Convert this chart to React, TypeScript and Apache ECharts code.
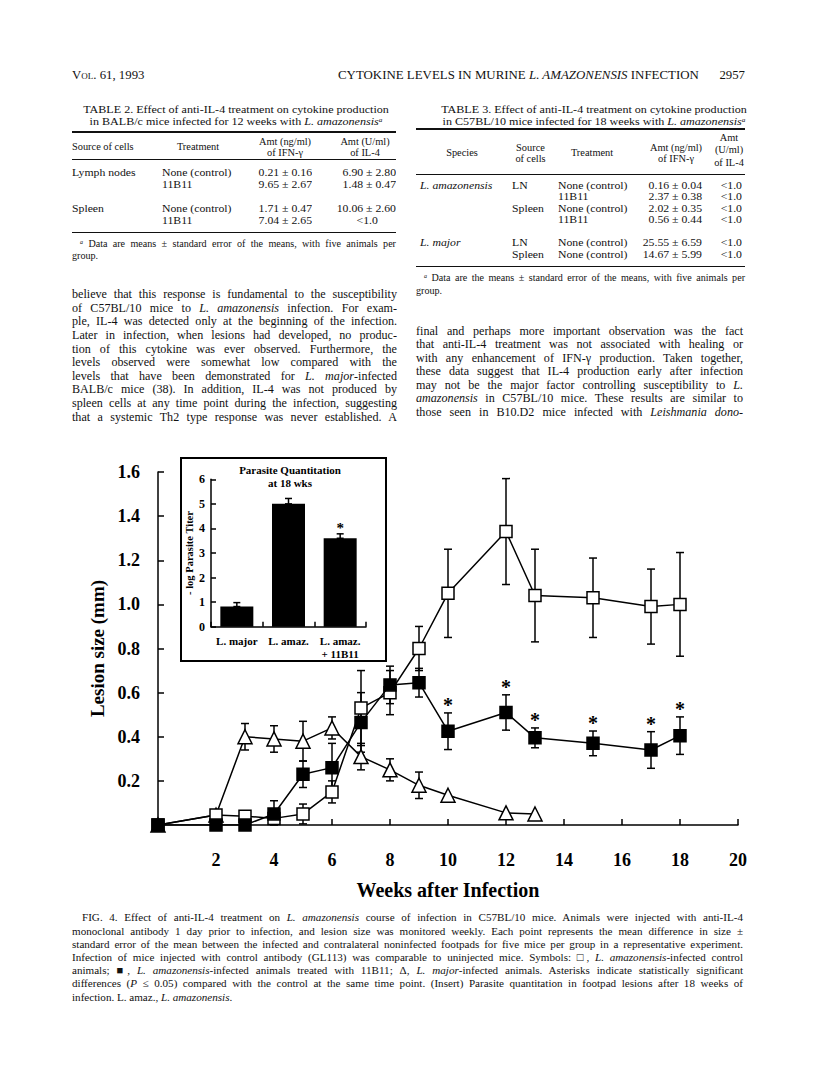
import React, { useEffect, useRef } from "react";
import * as echarts from "echarts";

// ---------- DATA ----------
const controlWeeks = [0, 2, 3, 4, 5, 6, 7, 8, 9, 10, 12, 13, 15, 17, 18];
const controlMean = [0, 0.045, 0.04, 0.03, 0.05, 0.15, 0.53, 0.6, 0.8, 1.05, 1.33, 1.04, 1.03, 0.99, 1.0];
const controlSE = [0, 0, 0, 0, 0.045, 0.05, 0.17, 0.1, 0.1, 0.2, 0.24, 0.21, 0.18, 0.17, 0.235];

const treatedWeeks = [0, 2, 3, 4, 5, 6, 7, 8, 9, 10, 12, 13, 15, 17, 18];
const treatedMean = [0, 0, 0, 0.05, 0.23, 0.26, 0.465, 0.635, 0.645, 0.425, 0.51, 0.395, 0.37, 0.34, 0.405];
const treatedSE = [0, 0, 0, 0.06, 0.06, 0.11, 0.135, 0.085, 0.065, 0.083, 0.08, 0.045, 0.056, 0.083, 0.085];

const majorWeeks = [0, 2, 3, 4, 5, 6, 7, 8, 9, 10, 12, 13];
const majorMean = [0, 0.045, 0.4, 0.39, 0.38, 0.44, 0.31, 0.25, 0.18, 0.135, 0.055, 0.05];
const majorSE = [0, 0, 0.06, 0.06, 0.09, 0.05, 0.06, 0.05, 0.06, 0, 0, 0];

const significantWeeks = [10, 12, 13, 15, 17, 18];

const insetCategories = ["L. major", "L. amaz.", "L. amaz.\n+ 11B11"];
const insetTiter = [0.82, 5.0, 3.6];
const insetSE = [0.16, 0.22, 0.18];
const insetSignificant = [2];

// Table 2 (BALB/c, 12 weeks)
const t2Source = ["Lymph nodes", "", "", "Spleen", ""];
const t2Treatment = ["None (control)", "11B11", "", "None (control)", "11B11"];
const t2IFN = ["0.21 ± 0.16", "9.65 ± 2.67", "", "1.71 ± 0.47", "7.04 ± 2.65"];
const t2IL4 = ["6.90 ± 2.80", "1.48 ± 0.47", "", "10.06 ± 2.60", "<1.0"];

// Table 3 (C57BL/10, 18 weeks)
const t3Source = ["LN", "", "Spleen", "", "", "LN", "Spleen"];
const t3Treatment = ["None (control)", "11B11", "None (control)", "11B11", "", "None (control)", "None (control)"];
const t3IFN = ["0.16 ± 0.04", "2.37 ± 0.38", "2.02 ± 0.35", "0.56 ± 0.44", "", "25.55 ± 6.59", "14.67 ± 5.99"];
const t3IL4 = ["<1.0", "<1.0", "<1.0", "<1.0", "", "<1.0", "<1.0"];

const SERIF = '"Liberation Serif", "Times New Roman", Times, serif';

// ---------- helpers ----------
function pairs(xs: number[], ys: number[]) {
  return xs.map((x, i) => [x, ys[i]]);
}
function errData(xs: number[], ys: number[], se: number[]) {
  const out: number[][] = [];
  xs.forEach((x, i) => {
    if (se[i] > 0) out.push([x, Math.max(0, ys[i] - se[i]), ys[i] + se[i]]);
  });
  return out;
}
function errRender(capW: number, lw: number) {
  return (_p: any, api: any) => {
    const x = api.value(0);
    const lo = api.value(1);
    const hi = api.value(2);
    const t = api.coord([x, hi]);
    const b = api.coord([x, lo]);
    const st = { stroke: "#000", lineWidth: lw };
    return {
      type: "group",
      children: [
        { type: "line", shape: { x1: t[0], y1: t[1], x2: b[0], y2: b[1] }, style: st },
        { type: "line", shape: { x1: t[0] - capW / 2, y1: t[1], x2: t[0] + capW / 2, y2: t[1] }, style: st },
        { type: "line", shape: { x1: b[0] - capW / 2, y1: b[1], x2: b[0] + capW / 2, y2: b[1] }, style: st },
      ],
    };
  };
}
function starRender(offset: number, size: number) {
  return (_p: any, api: any) => {
    const c = api.coord([api.value(0), api.value(1)]);
    return {
      type: "text",
      x: c[0],
      y: c[1] - offset,
      style: {
        text: "*",
        font: `bold ${size}px ${SERIF}`,
        fill: "#000",
        align: "center",
        verticalAlign: "middle",
        textAlign: "center",
        textVerticalAlign: "middle",
      },
    };
  };
}

function Chart() {
  const ref = useRef<HTMLDivElement>(null);
  useEffect(() => {
    if (!ref.current) return;
    const chart = echarts.init(ref.current, undefined, { renderer: "svg" });
    const axisLine = { show: true, lineStyle: { color: "#000", width: 1.5 } };
    const treatedUpper = treatedWeeks
      .map((w, i) => [w, treatedMean[i] + treatedSE[i]])
      .filter((d) => significantWeeks.includes(d[0]));
    const insetUpper = insetSignificant.map((i) => [i, insetTiter[i] + insetSE[i]]);
    const centered = { align: "center", verticalAlign: "middle", textAlign: "center", textVerticalAlign: "middle" };

    chart.setOption({
      animation: false,
      backgroundColor: "#fff",
      textStyle: { fontFamily: SERIF, color: "#000" },
      grid: [
        { left: 158, top: 32, width: 580, height: 353 },
        { left: 211, top: 39.3, width: 155, height: 147.4 },
      ],
      xAxis: [
        {
          gridIndex: 0,
          type: "value",
          min: 0,
          max: 20,
          interval: 2,
          axisLine,
          axisTick: { show: true, inside: true, length: 6, lineStyle: { color: "#000", width: 1.5 } },
          splitLine: { show: false },
          axisLabel: {
            formatter: (v: number) => (v === 0 ? "" : String(v)),
            fontSize: 18,
            fontWeight: "bold",
            color: "#000",
            fontFamily: SERIF,
            margin: 26,
          },
          name: "Weeks after Infection",
          nameLocation: "middle",
          nameGap: 55,
          nameTextStyle: { fontSize: 20, fontWeight: "bold", color: "#000", fontFamily: SERIF },
        },
        {
          gridIndex: 1,
          type: "category",
          data: insetCategories,
          axisLine,
          axisTick: { show: true, inside: true, length: 5, lineStyle: { color: "#000", width: 1.5 } },
          axisLabel: {
            fontSize: 11,
            fontWeight: "bold",
            color: "#000",
            fontFamily: SERIF,
            margin: 8,
            lineHeight: 13,
            interval: 0,
          },
        },
      ],
      yAxis: [
        {
          gridIndex: 0,
          type: "value",
          min: 0,
          max: 1.6,
          interval: 0.2,
          axisLine,
          axisTick: { show: true, inside: true, length: 6, lineStyle: { color: "#000", width: 1.5 } },
          splitLine: { show: false },
          axisLabel: {
            formatter: (v: number) => (v === 0 ? "" : v.toFixed(1)),
            fontSize: 18,
            fontWeight: "bold",
            color: "#000",
            fontFamily: SERIF,
            margin: 18,
          },
          name: "Lesion size (mm)",
          nameLocation: "middle",
          nameGap: 36,
          nameRotate: 90,
          nameTextStyle: { fontSize: 19, fontWeight: "bold", color: "#000", fontFamily: SERIF },
        },
        {
          gridIndex: 1,
          type: "value",
          min: 0,
          max: 6,
          interval: 1,
          axisLine,
          axisTick: { show: true, inside: true, length: 5, lineStyle: { color: "#000", width: 1.5 } },
          splitLine: { show: false },
          axisLabel: { fontSize: 12, fontWeight: "bold", color: "#000", fontFamily: SERIF, margin: 6 },
          name: "- log Parasite Titer",
          nameLocation: "middle",
          nameGap: 16,
          nameRotate: 90,
          nameTextStyle: { fontSize: 10.5, fontWeight: "bold", color: "#000", fontFamily: SERIF },
        },
      ],
      graphic: [
        {
          type: "rect",
          shape: { x: 181, y: 18, width: 205, height: 203 },
          style: { fill: "none", stroke: "#000", lineWidth: 2 },
          z: 10,
        },
        {
          type: "text",
          x: 290,
          y: 36,
          style: {
            text: "Parasite Quantitation\nat 18 wks",
            font: `bold 11px ${SERIF}`,
            lineHeight: 13,
            fill: "#000",
            ...centered,
          },
          z: 10,
        },
      ],
      series: [
        {
          type: "custom",
          xAxisIndex: 0,
          yAxisIndex: 0,
          renderItem: errRender(8, 1.5),
          data: errData(controlWeeks, controlMean, controlSE),
          z: 1,
        },
        {
          type: "custom",
          xAxisIndex: 0,
          yAxisIndex: 0,
          renderItem: errRender(8, 1.5),
          data: errData(treatedWeeks, treatedMean, treatedSE),
          z: 1,
        },
        {
          type: "custom",
          xAxisIndex: 0,
          yAxisIndex: 0,
          renderItem: errRender(8, 1.5),
          data: errData(majorWeeks, majorMean, majorSE),
          z: 1,
        },
        {
          type: "line",
          xAxisIndex: 0,
          yAxisIndex: 0,
          data: pairs(majorWeeks, majorMean),
          symbol: "triangle",
          symbolSize: 14,
          showSymbol: true,
          lineStyle: { color: "#000", width: 1.5 },
          itemStyle: { color: "#fff", borderColor: "#000", borderWidth: 1.5 },
          z: 3,
        },
        {
          type: "line",
          xAxisIndex: 0,
          yAxisIndex: 0,
          data: pairs(controlWeeks, controlMean),
          symbol: "rect",
          symbolSize: 12,
          showSymbol: true,
          lineStyle: { color: "#000", width: 1.5 },
          itemStyle: { color: "#fff", borderColor: "#000", borderWidth: 1.5 },
          z: 3,
        },
        {
          type: "line",
          xAxisIndex: 0,
          yAxisIndex: 0,
          data: pairs(treatedWeeks, treatedMean),
          symbol: "rect",
          symbolSize: 12,
          showSymbol: true,
          lineStyle: { color: "#000", width: 1.5 },
          itemStyle: { color: "#000", borderColor: "#000", borderWidth: 1.5 },
          z: 4,
        },
        {
          type: "custom",
          xAxisIndex: 0,
          yAxisIndex: 0,
          renderItem: starRender(8, 20),
          data: treatedUpper,
          z: 5,
        },
        // inset
        {
          type: "bar",
          xAxisIndex: 1,
          yAxisIndex: 1,
          data: insetTiter,
          barWidth: 33,
          itemStyle: { color: "#000" },
          z: 2,
        },
        {
          type: "custom",
          xAxisIndex: 1,
          yAxisIndex: 1,
          renderItem: errRender(7, 1.5),
          data: insetTiter.map((v, i) => [i, v, v + insetSE[i]]),
          z: 1,
        },
        {
          type: "custom",
          xAxisIndex: 1,
          yAxisIndex: 1,
          renderItem: starRender(6, 15),
          data: insetUpper,
          z: 5,
        },
      ],
    });
    return () => chart.dispose();
  }, []);
  return <div ref={ref} style={{ position: "absolute", left: 0, top: 440, width: 816, height: 470 }} />;
}

// ---------- page text ----------
type BP = {
  x: number; // left, centre or right edge depending on align
  y: number; // centre of first line
  w: number;
  lines: React.ReactNode[];
  a?: "l" | "c" | "r" | "j";
  s?: number;
  lh?: number;
  sx?: number; // horizontal stretch of the glyphs
  st?: React.CSSProperties;
};
function B({ x, y, w, lines, a = "l", s = 12, lh = 12, sx = 1, st }: BP) {
  let left = x;
  if (a === "c") left = x - w / 2;
  if (a === "r") left = x - w;
  const origin = a === "c" ? "center" : a === "r" ? "right" : "left";
  return (
    <div
      style={{
        position: "absolute",
        left,
        top: y - lh / 2,
        width: w,
        lineHeight: lh + "px",
        fontSize: s,
        textAlign: a === "c" ? "center" : a === "r" ? "right" : a === "j" ? "justify" : "left",
        textAlignLast: a === "j" ? "justify" : undefined,
        whiteSpace: a === "j" ? "normal" : "nowrap",
        transform: sx !== 1 ? `scaleX(${sx})` : undefined,
        transformOrigin: origin + " center",
        ...st,
      }}
    >
      {lines.map((ln, i) => (
        <React.Fragment key={i}>
          {ln === "" ? "\u00a0" : ln}
          {i < lines.length - 1 ? <br /> : null}
        </React.Fragment>
      ))}
    </div>
  );
}
const Sup = ({ c }: { c: string }) => (
  <span style={{ fontSize: "0.6em", lineHeight: 0, fontStyle: "italic", verticalAlign: "3px" }}>{c}</span>
);
const Rule = ({ x, y, w, h = 1 }: { x: number; y: number; w: number; h?: number }) => (
  <div style={{ position: "absolute", left: x, top: y - h / 2, width: w, height: h, background: "#111" }} />
);

const leftLines: React.ReactNode[] = [
  "believe that this response is fundamental to the susceptibility",
  <>of C57BL/10 mice to <i>L. amazonensis</i> infection. For exam-</>,
  "ple, IL-4 was detected only at the beginning of the infection.",
  "Later in infection, when lesions had developed, no produc-",
  "tion of this cytokine was ever observed. Furthermore, the",
  "levels observed were somewhat low compared with the",
  <>levels that have been demonstrated for <i>L. major</i>-infected</>,
  "BALB/c mice (38). In addition, IL-4 was not produced by",
  "spleen cells at any time point during the infection, suggesting",
  "that a systemic Th2 type response was never established. A",
];
const rightLines: React.ReactNode[] = [
  "final and perhaps more important observation was the fact",
  "that anti-IL-4 treatment was not associated with healing or",
  "with any enhancement of IFN-γ production. Taken together,",
  "these data suggest that IL-4 production early after infection",
  <>may not be the major factor controlling susceptibility to <i>L.</i></>,
  <><i>amazonensis</i> in C57BL/10 mice. These results are similar to</>,
  <>those seen in B10.D2 mice infected with <i>Leishmania dono-</i></>,
];
const captionLines: React.ReactNode[] = [
  <><span style={{ paddingLeft: 10 }} />FIG. 4. Effect of anti-IL-4 treatment on <i>L. amazonensis</i> course of infection in C57BL/10 mice. Animals were injected with anti-IL-4</>,
  "monoclonal antibody 1 day prior to infection, and lesion size was monitored weekly. Each point represents the mean difference in size ±",
  "standard error of the mean between the infected and contralateral noninfected footpads for five mice per group in a representative experiment.",
  <>Infection of mice injected with control antibody (GL113) was comparable to uninjected mice. Symbols: □, <i>L. amazonensis</i>-infected control</>,
  <>animals; ■, <i>L. amazonensis</i>-infected animals treated with 11B11; Δ, <i>L. major</i>-infected animals. Asterisks indicate statistically significant</>,
  <>differences (<i>P</i> ≤ 0.05) compared with the control at the same time point. (Insert) Parasite quantitation in footpad lesions after 18 weeks of</>,
];
const captionLast: React.ReactNode = <>infection. L. amaz., <i>L. amazonensis</i>.</>;

function Page() {
  const ts = 10.7; // table titles
  const tsx = 1.13;
  const tl = 10.4; // table rows
  const tlx = 1.13;
  const hs = 9.6; // table heads
  const hsx = 1.08;
  return (
    <div style={{ position: "absolute", left: 0, top: 0, width: 816, height: 1084, fontFamily: SERIF, color: "#111", background: "#fff" }}>
      {/* running head */}
      <B x={72} y={75} w={120} s={12.8} lh={14} lines={["Vol. 61, 1993"]} st={{ fontVariant: "small-caps" }} />
      <B x={338} y={75} w={370} s={12.9} lh={14} lines={[<>CYTOKINE LEVELS IN MURINE <i>L. AMAZONENSIS</i> INFECTION</>]} />
      <B x={745} y={75} a="r" w={40} s={12.8} lh={14} lines={["2957"]} />

      {/* TABLE 2 */}
      <B
        x={236}
        y={108.7}
        a="c"
        w={300}
        s={ts}
        sx={tsx}
        lh={12}
        lines={[
          "TABLE 2. Effect of anti-IL-4 treatment on cytokine production",
          <>in BALB/c mice infected for 12 weeks with <i>L. amazonensis</i><Sup c="a" /></>,
        ]}
      />
      <Rule x={72} y={132} w={324} h={1.5} />
      <B x={72} y={147} w={75} s={hs} sx={hsx} lines={["Source of cells"]} />
      <B x={198} y={147} a="c" w={60} s={hs} sx={hsx} lines={["Treatment"]} />
      <B x={285} y={141.4} a="c" w={70} s={hs} sx={hsx} lh={11} lines={["Amt (ng/ml)", "of IFN-γ"]} />
      <B x={365} y={141.4} a="c" w={60} s={hs} sx={hsx} lh={11} lines={["Amt (U/ml)", "of IL-4"]} />
      <Rule x={72} y={159} w={324} h={1} />
      <B x={72} y={173.3} w={80} s={tl} sx={tlx} lh={11.8} lines={t2Source} />
      <B x={162} y={173.3} w={80} s={tl} sx={tlx} lh={11.8} lines={t2Treatment} />
      <B x={312} y={173.3} a="r" w={70} s={tl} sx={tlx} lh={11.8} lines={t2IFN} />
      <B x={396} y={173.3} a="r" w={70} s={tl} sx={tlx} lh={11.8} lines={t2IL4.map((v) => (v.startsWith("<") ? <span style={{ paddingRight: 16 }}>{v}</span> : v))} />
      <Rule x={72} y={232.3} w={324} h={1.5} />
      <B
        x={72}
        y={244}
        a="j"
        w={324}
        s={10.1}
        lh={11.5}
        lines={[<><span style={{ paddingLeft: 8 }} /><Sup c="a" /> Data are means ± standard error of the means, with five animals per</>]}
      />
      <B x={72} y={255.5} w={60} s={10.1} lh={11.5} lines={["group."]} />

      {/* TABLE 3 */}
      <B
        x={594}
        y={109.3}
        a="c"
        w={300}
        s={ts}
        sx={tsx}
        lh={12.2}
        lines={[
          "TABLE 3. Effect of anti-IL-4 treatment on cytokine production",
          <>in C57BL/10 mice infected for 18 weeks with <i>L. amazonensis</i><Sup c="a" /></>,
        ]}
      />
      <Rule x={416} y={129} w={329} h={1.5} />
      <B x={462} y={153.3} a="c" w={50} s={hs} sx={hsx} lines={["Species"]} />
      <B x={530} y={147.3} a="c" w={45} s={hs} sx={hsx} lh={11} lines={["Source", "of cells"]} />
      <B x={592} y={153.3} a="c" w={60} s={hs} sx={hsx} lines={["Treatment"]} />
      <B x={676} y={147.3} a="c" w={70} s={hs} sx={hsx} lh={11} lines={["Amt (ng/ml)", "of IFN-γ"]} />
      <B x={729} y={138.3} a="c" w={34} s={hs} sx={hsx} lh={12.2} lines={["Amt", "(U/ml)", "of IL-4"]} />
      <Rule x={416} y={174} w={329} h={1} />
      <B x={420} y={185.3} w={85} s={tl} sx={tlx} lh={11.6} lines={[<i>L. amazonensis</i>, "", "", "", "", <i>L. major</i>]} />
      <B x={512} y={185.3} w={40} s={tl} sx={tlx} lh={11.6} lines={t3Source} />
      <B x={558} y={185.3} w={75} s={tl} sx={tlx} lh={11.6} lines={t3Treatment} />
      <B x={702} y={185.3} a="r" w={68} s={tl} sx={tlx} lh={11.6} lines={t3IFN} />
      <B x={742} y={185.3} a="r" w={30} s={tl} sx={tlx} lh={11.6} lines={t3IL4} />
      <Rule x={416} y={266.7} w={329} h={1.5} />
      <B
        x={416}
        y={278.3}
        a="j"
        w={329}
        s={10.1}
        lh={12}
        lines={[<><span style={{ paddingLeft: 8 }} /><Sup c="a" /> Data are the means ± standard error of the means, with five animals per</>]}
      />
      <B x={416} y={290.5} w={60} s={10.1} lh={12} lines={["group."]} />

      {/* body text */}
      <B x={72} y={295} a="j" w={325} s={12.1} lh={13.6} lines={leftLines} />
      <B x={416} y={331.7} a="j" w={327} s={12.1} lh={13.5} lines={rightLines} />

      <Chart />

      {/* caption */}
      <B x={72} y={918} a="j" w={671} s={11.1} lh={13.2} lines={captionLines} />
      <B x={72} y={918 + 6 * 13.2} w={300} s={11.1} lh={13.2} lines={[captionLast]} />
    </div>
  );
}

export default function App() {
  return <Page />;
}
